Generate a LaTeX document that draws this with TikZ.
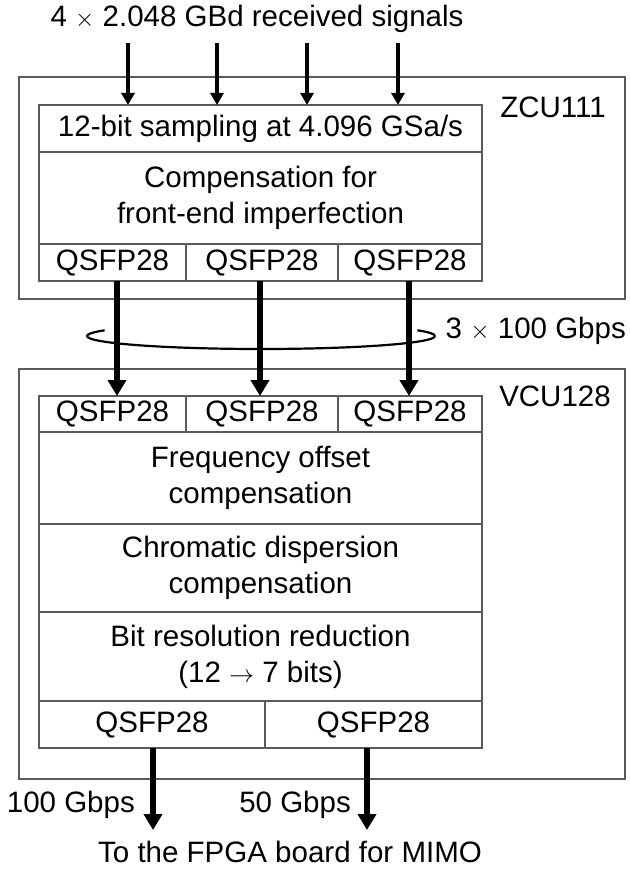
\documentclass[tikz,border=0pt]{standalone}
\usepackage{fontspec}
\setmainfont{Liberation Sans}
\usetikzlibrary{arrows.meta, positioning}
\definecolor{grisborde}{HTML}{5A5A5A}
\colorlet{colBorde}{grisborde}
\colorlet{colFlecha}{black}
\tikzset{
  celdaBase/.style={
    draw=colBorde, line width=1.3pt, inner sep=0pt, outer sep=0pt,
    align=center, anchor=north west
  },
  celdaAncha/.style={celdaBase, minimum width=443pt},
  tarjeta/.style={draw=colBorde, line width=1.3pt, inner sep=0pt, outer sep=0pt,
    anchor=north west},
  flechaFina/.style={-{Triangle[width=13pt, length=12pt]}, line width=3.5pt, colFlecha},
  flechaGruesa/.style={-{Triangle[width=18pt, length=16pt]}, line width=5.5pt, colFlecha},
  anillo/.style={line width=2.2pt, colFlecha},
  etiqueta/.style={inner sep=0pt},
}

\begin{document}
\begin{tikzpicture}[x=1pt, y=-1pt, font=\fontsize{29.5}{36}\selectfont]
  \useasboundingbox (0,0) rectangle (629,869);

  % placas
  \node[tarjeta, minimum width=606pt, minimum height=222pt] (zcu) at (19,77) {};
  \node[tarjeta, minimum width=606pt, minimum height=410pt] (vcu) at (19,369) {};
  \node[etiqueta] (zcuNombre) at (553,107) {ZCU111};
  \node[etiqueta] (vcuNombre) at (555,396) {VCU128};

  % ZCU111
  \node[celdaAncha, minimum height=47pt] (zMuestreo) at (39,105) {12-bit sampling at 4.096 GSa/s};
  \node[celdaAncha, minimum height=92pt, below=0pt of zMuestreo] (zComp)
    {Compensation for\\front-end imperfection};
  \node[celdaBase, minimum width=147pt, minimum height=37pt] (zq1) at (zComp.south west) {QSFP28};
  \node[celdaBase, minimum width=152pt, minimum height=37pt, right=0pt of zq1] (zq2) {QSFP28};
  \node[celdaBase, minimum width=144pt, minimum height=37pt, right=0pt of zq2] (zq3) {QSFP28};

  % VCU128
  \node[celdaBase, minimum width=147pt, minimum height=36pt] (vq1) at (39,396) {QSFP28};
  \node[celdaBase, minimum width=152pt, minimum height=36pt, right=0pt of vq1] (vq2) {QSFP28};
  \node[celdaBase, minimum width=144pt, minimum height=36pt, right=0pt of vq2] (vq3) {QSFP28};
  \node[celdaAncha, minimum height=92pt] (vFrec) at (vq1.south west)
    {Frequency offset\\compensation};
  \node[celdaAncha, minimum height=88pt, below=0pt of vFrec] (vDisp)
    {Chromatic dispersion\\compensation};
  \node[celdaAncha, minimum height=89pt, below=0pt of vDisp] (vBits)
    {Bit resolution reduction\\(12 $\rightarrow$ 7 bits)};
  \node[celdaBase, minimum width=226pt, minimum height=47pt] (vs1) at (vBits.south west) {QSFP28};
  \node[celdaBase, minimum width=217pt, minimum height=47pt, right=0pt of vs1] (vs2) {QSFP28};

  % entradas
  \node[etiqueta, anchor=base] (entrada) at (257,27) {4 $\times$ 2.048 GBd received signals};
  \foreach \i/\x in {1/128, 2/217, 3/307, 4/398} {
    \coordinate (e\i) at (\x,43);
    \draw[flechaFina] (e\i) -- (e\i |- zMuestreo.north);
  }

  % enlace 3 x 100 Gbps
  \coordinate (haz) at (261,336);
  \draw[anillo] (haz) ++(174,0)
    arc[start angle=0, end angle=180, x radius=174, y radius=13]
    arc[start angle=180, end angle=206, x radius=174, y radius=13];
  \draw[anillo] (haz) ++(174,0)
    arc[start angle=360, end angle=334, x radius=174, y radius=13];
  \node[etiqueta, anchor=base east] (enlace) at (626,338) {3 $\times$ 100 Gbps};
  \draw[flechaGruesa] ([xshift=4.5pt]zq1.south) -- ([xshift=4.5pt]vq1.north);
  \draw[flechaGruesa] ([xshift=-2pt]zq2.south) -- ([xshift=-2pt]vq2.north);
  \draw[flechaGruesa] ([xshift=-1pt]zq3.south) -- ([xshift=-1pt]vq3.north);

  % salidas
  \coordinate (s1) at (153,830);
  \coordinate (s2) at (367,830);
  \draw[flechaGruesa] (vs1.south -| s1) -- (s1);
  \draw[flechaGruesa] (vs2.south -| s2) -- (s2);
  \node[etiqueta, anchor=base east] (tasa1) at (135,812) {100 Gbps};
  \node[etiqueta, anchor=base east] (tasa2) at (351,812) {50 Gbps};
  \node[etiqueta, anchor=base] (destino) at (290,862) {To the FPGA board for MIMO};
\end{tikzpicture}
\end{document}
